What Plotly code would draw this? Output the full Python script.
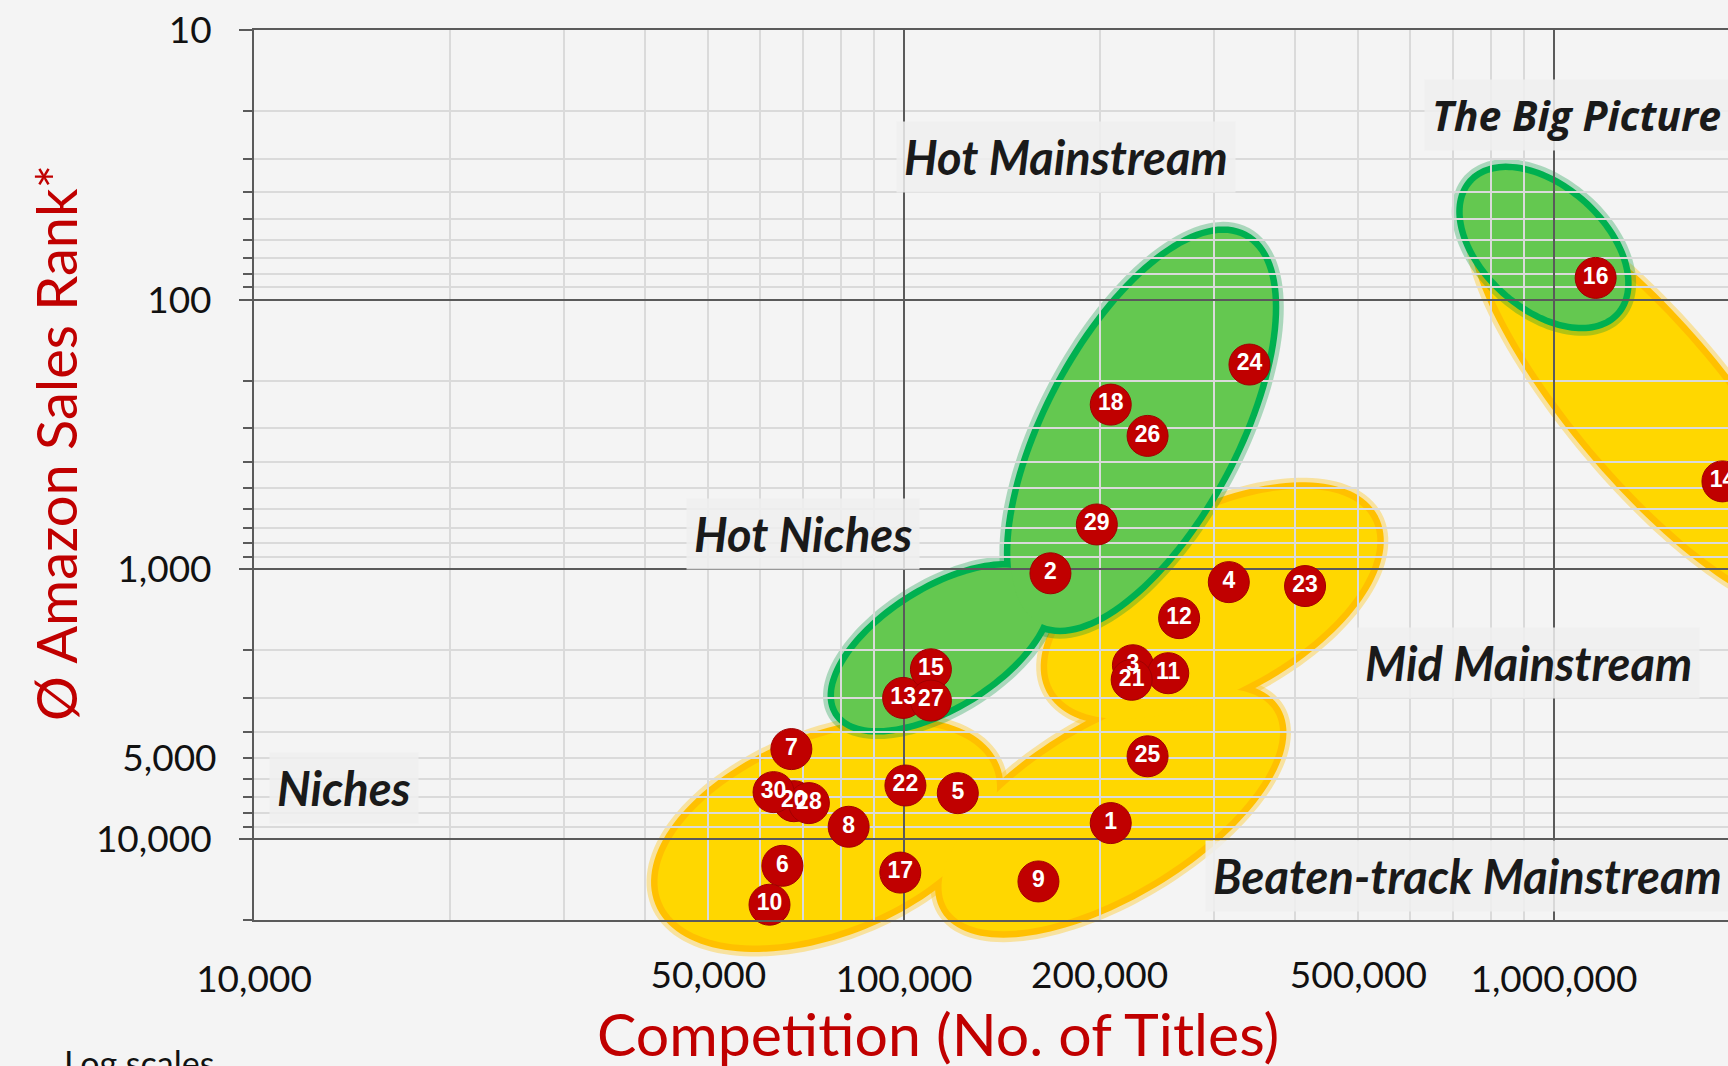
import numpy as np
import plotly.graph_objects as go

# ---------------- data ----------------
labels = ["1", "2", "3", "4", "5", "6", "7", "8", "9", "10",
          "11", "12", "13", "14", "15", "16", "17", "18", "20",
          "21", "22", "23", "24", "25", "26", "27", "28", "29", "30"]
competition = [208000, 168000, 225000, 316000, 121000, 65000, 67100, 82200, 161000, 62100,
               255000, 265000, 99700, 1816000, 110000, 1159000, 98700, 208000, 67700,
               224000, 100500, 414000, 340000, 237000, 237000, 110000, 71400, 198000, 63000]
sales_rank = [8740, 1035, 2270, 1116, 6770, 12590, 4645, 9020, 14390, 17550,
              2430, 1518, 3000, 472, 2350, 83, 13340, 245, 7250,
              2570, 6340, 1154, 174, 4940, 320, 3070, 7370, 682, 6710]

x_major_vals = [10000, 100000, 1000000]
x_major_text = ["10,000", "100,000", "1,000,000"]
x_extra_vals = [50000, 200000, 500000]
x_extra_text = ["50,000", "200,000", "500,000"]
y_major_vals = [10, 100, 1000, 10000]
y_major_text = ["10", "100", "1,000", "10,000"]
y_extra_vals = [5000]
y_extra_text = ["5,000"]

segment_names = ["Hot Mainstream", "The Big Picture", "Hot Niches",
                 "Mid Mainstream", "Beaten-track Mainstream", "Niches"]

# ---------------- layout geometry ----------------
W, H = 1728, 1066
ML, MR, MT, MB = 254, 0, 30, 146
PLOT_W, PLOT_H = W - ML - MR, H - MT - MB
X_RANGE = [4.0, 4.0 + PLOT_W / 650.0]
Y_RANGE = [np.log10(20000), 0.9995]
PXX = PLOT_W / (X_RANGE[1] - X_RANGE[0])
PXY = PLOT_H / (Y_RANGE[0] - Y_RANGE[1])

DARK = "#5a5a5a"
LIGHT = "#dadada"
RED = "#c00000"
BG = "#f4f4f4"


def px2paper(px, py):
    return (px - ML) / PLOT_W, (H - MB - py) / PLOT_H


def ellipse_path(cx, cy, a, b, ang, n=140):
    """Outline of a segment ellipse, expressed in axis-domain fractions."""
    lx, ly = np.log10(cx), np.log10(cy)
    t = np.linspace(0, 2 * np.pi, n, endpoint=False)
    th = np.radians(ang)
    dx = a * np.cos(t) * np.cos(th) - b * np.sin(t) * np.sin(th)
    dy = a * np.cos(t) * np.sin(th) + b * np.sin(t) * np.cos(th)
    fx = (lx + dx / PXX - X_RANGE[0]) / (X_RANGE[1] - X_RANGE[0])
    fy = (ly + dy / PXY - Y_RANGE[0]) / (Y_RANGE[1] - Y_RANGE[0])
    return "M " + " L ".join(f"{x:.5f},{y:.5f}" for x, y in zip(fx, fy)) + " Z"


# decorative segment ellipses: centre (data units), semi-axes (px), tilt (deg)
yellow_blobs = [
    dict(c=(76200, 9660), a=186, b=102, ang=-22),      # Niches
    dict(c=(208000, 7800), a=198, b=90, ang=-31),      # Beaten-track
    dict(c=(298000, 1344), a=188, b=95, ang=-28),      # Mid mainstream
    dict(c=(1395000, 240), a=260, b=80, ang=50),       # Big picture (yellow)
]
green_blobs = [
    dict(c=(114000, 1956), a=128, b=64, ang=-32),      # Hot niches
    dict(c=(232000, 305), a=225, b=100, ang=-62),      # Hot mainstream
    dict(c=(965000, 64), a=103, b=65, ang=42),         # Big picture (green)
]

shapes = []


def add_group(blobs, fill, border, glow):
    paths = [ellipse_path(bl["c"][0], bl["c"][1], bl["a"] - 7, bl["b"] - 7, bl["ang"]) for bl in blobs]
    common = dict(type="path", xref="x domain", yref="y domain", layer="below")
    for p in paths:
        shapes.append(dict(path=p, line=dict(color=glow, width=22), fillcolor=glow, **common))
    for p in paths:
        shapes.append(dict(path=p, line=dict(color=border, width=13), fillcolor=border, **common))
    for p in paths:
        shapes.append(dict(path=p, line=dict(width=0), fillcolor=fill, **common))


add_group(yellow_blobs, "#ffd700", "#ffc000", "rgba(255,192,0,0.35)")
add_group(green_blobs, "#64c850", "#00b050", "rgba(0,150,60,0.30)")

fig = go.Figure()
fig.add_trace(go.Scatter(
    x=competition, y=sales_rank, text=labels, mode="markers+text",
    marker=dict(size=41, color=RED, line=dict(color="#a00000", width=1)),
    textfont=dict(family="Liberation Sans, Arial", size=23, color="white", weight="bold"),
    textposition="middle center", cliponaxis=False, hoverinfo="skip", showlegend=False))
# helper trace for the overlay axes carrying the extra tick labels
fig.add_trace(go.Scatter(x=[competition[0]], y=[sales_rank[0]], xaxis="x2", yaxis="y2",
                         mode="markers", marker=dict(opacity=0), hoverinfo="skip",
                         showlegend=False))

tickfont = dict(family="Lato", size=37, color="#111111")

fig.update_layout(
    width=W, height=H,
    margin=dict(l=ML, r=MR, t=MT, b=MB),
    paper_bgcolor=BG, plot_bgcolor="rgba(0,0,0,0)",
    showlegend=False,
    shapes=shapes,
    xaxis=dict(type="log", range=X_RANGE, tickmode="array", tickvals=x_major_vals,
               ticktext=x_major_text, showgrid=True, gridcolor=DARK, gridwidth=2,
               showline=True, linecolor=DARK, linewidth=2, mirror=True, ticks="",
               zeroline=False, tickfont=tickfont, ticklabelstandoff=26,
               minor=dict(tickmode="array",
                          tickvals=[m * 10 ** e for e in (4, 5, 6) for m in range(2, 10)],
                          showgrid=True, gridcolor=LIGHT, gridwidth=1.5, ticks="")),
    xaxis2=dict(type="log", range=X_RANGE, overlaying="x", anchor="y2", side="bottom",
                tickmode="array", tickvals=x_extra_vals, ticktext=x_extra_text,
                showgrid=False, showline=False, zeroline=False, ticks="",
                tickfont=tickfont, ticklabelstandoff=30),
    yaxis=dict(type="log", range=Y_RANGE, tickmode="array", tickvals=y_major_vals,
               ticktext=y_major_text, showgrid=True, gridcolor=DARK, gridwidth=2,
               showline=True, linecolor=DARK, linewidth=2, ticks="outside", ticklen=13,
               tickwidth=2, tickcolor=DARK, zeroline=False, tickfont=tickfont,
               ticklabelstandoff=20,
               minor=dict(tickmode="array",
                          tickvals=[m * 10 ** e for e in (1, 2, 3, 4) for m in range(2, 10)],
                          showgrid=True, gridcolor=LIGHT, gridwidth=1.5, ticks="outside",
                          ticklen=9, tickwidth=2, tickcolor=DARK)),
    yaxis2=dict(type="log", range=Y_RANGE, overlaying="y", anchor="x2", side="left",
                tickmode="array", tickvals=y_extra_vals, ticktext=y_extra_text,
                showgrid=False, showline=False, zeroline=False, ticks="outside",
                ticklen=9, tickwidth=2, tickcolor=DARK, tickfont=tickfont,
                ticklabelstandoff=20),
)

# segment labels
label_px = [(1066, 157), (1576, 115), (803, 534), (1528, 663), (1467, 876), (344, 788)]
for name, (px, py) in zip(segment_names, label_px):
    xp, yp = px2paper(px, py)
    fam = "Open Sans" if name == "The Big Picture" else "Lato"
    size = 41 if name == "The Big Picture" else 47
    fig.add_annotation(x=xp, y=yp, xref="paper", yref="paper", text=name, showarrow=False,
                       font=dict(family=fam, size=size, color="#1a1a1a", weight="bold",
                                 style="italic"),
                       bgcolor="rgba(238,238,238,0.85)", borderpad=7,
                       xanchor="center", yanchor="middle")

# axis titles
xp, yp = px2paper(55, 443)
fig.add_annotation(x=xp, y=yp, xref="paper", yref="paper", text="Ø Amazon Sales Rank*",
                   textangle=-90, showarrow=False, xanchor="center", yanchor="middle",
                   font=dict(family="Lato", size=56, color=RED))
xp, yp = px2paper(938, 1033)
fig.add_annotation(x=xp, y=yp, xref="paper", yref="paper", text="Competition (No. of Titles)",
                   showarrow=False, xanchor="center", yanchor="middle",
                   font=dict(family="Lato", size=59, color=RED))
xp, yp = px2paper(62, 1040)
fig.add_annotation(x=xp, y=yp, xref="paper", yref="paper", text="Log scales",
                   showarrow=False, xanchor="left", yanchor="top",
                   font=dict(family="Lato", size=34, color="#111111"))

fig.write_html("out.html",
               config={"displayModeBar": False},
               post_script="document.body.style.margin='0px';"
                           "document.body.style.background='" + BG + "';")
